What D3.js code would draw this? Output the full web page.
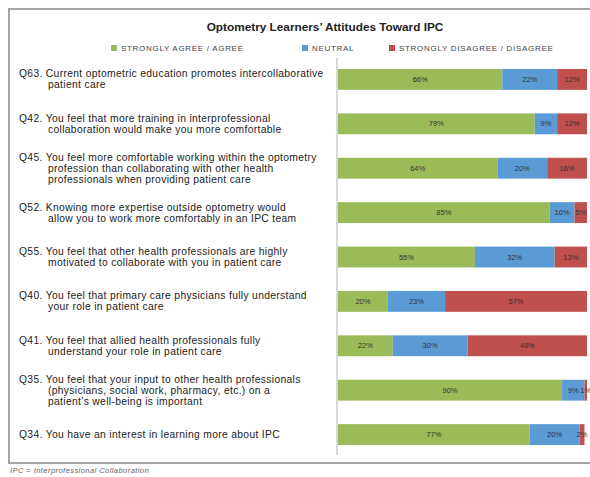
<!DOCTYPE html>
<html>
<head>
<meta charset="utf-8">
<script src="https://cdn.jsdelivr.net/npm/d3@7"></script>
<style>
  html, body { margin: 0; padding: 0; background: #fff; }
  svg { display: block; font-family: "Liberation Sans", Arial, sans-serif; }
</style>
</head>
<body>
<svg id="chart" width="590" height="477"></svg>
<script>
// ---- data ----
const title = "Optometry Learners\u2019 Attitudes Toward IPC";
const seriesNames = ["STRONGLY AGREE / AGREE", "NEUTRAL", "STRONGLY DISAGREE / DISAGREE"];
const questionIds = ["Q63", "Q42", "Q45", "Q52", "Q55", "Q40", "Q41", "Q35", "Q34"];
const questionLines = [
  ["Q63. Current optometric education promotes intercollaborative", "patient care"],
  ["Q42. You feel that more training in interprofessional", "collaboration would make you more comfortable"],
  ["Q45. You feel more comfortable working within the optometry", "profession than collaborating with other health", "professionals when providing patient care"],
  ["Q52. Knowing more expertise outside optometry would", "allow you to work more comfortably in an IPC team"],
  ["Q55. You feel that other health professionals are highly", "motivated to collaborate with you in patient care"],
  ["Q40. You feel that primary care physicians fully understand", "your role in patient care"],
  ["Q41. You feel that allied health professionals fully", "understand your role in patient care"],
  ["Q35. You feel that your input to other health professionals", "(physicians, social work, pharmacy, etc.) on a", "patient\u2019s well-being is important"],
  ["Q34. You have an interest in learning more about IPC"]
];
const agree    = [66, 79, 64, 85, 55, 20, 22, 90, 77];
const neutral  = [22,  9, 20, 10, 32, 23, 30,  9, 20];
const disagree = [12, 12, 16,  5, 13, 57, 48,  1,  2];
const footnote = "IPC = Interprofessional Collaboration";

// ---- build ----
const colors = ["#9bbb59", "#5b9bd5", "#c0504d"];
const svg = d3.select("#chart");

const rows = questionIds.map((id, i) => ({id, lines: questionLines[i], values: [agree[i], neutral[i], disagree[i]]}));

const x = d3.scaleLinear().domain([0, 100]).range([338, 587]);
const y = d3.scaleBand().domain(questionIds).range([57, 457]).paddingInner(0.53).paddingOuter(0.27);

// frame
svg.append("path")
  .attr("d", "M590,9 H9 V463 H590")
  .attr("fill", "none")
  .attr("stroke", "#a6a6a6")
  .attr("stroke-width", 2);

// title
svg.append("text")
  .attr("x", 325).attr("y", 31)
  .attr("text-anchor", "middle")
  .attr("font-size", 11.8).attr("font-weight", "bold")
  .attr("fill", "#222")
  .text(title);

// legend
const legendX = [111, 302, 389];
const leg = svg.append("g").selectAll("g").data(seriesNames).join("g")
  .attr("transform", (d, i) => `translate(${legendX[i]},48)`);
leg.append("rect").attr("x", 0).attr("y", -3).attr("width", 6).attr("height", 6)
  .attr("fill", (d, i) => colors[i]);
leg.append("text").attr("x", 10).attr("y", 2.8)
  .attr("font-size", 8).attr("letter-spacing", 0.7).attr("fill", "#444")
  .text(d => d);

// axis line
svg.append("line")
  .attr("x1", x(0) - 1).attr("x2", x(0) - 1)
  .attr("y1", 58).attr("y2", 455)
  .attr("stroke", "#d9d9d9").attr("stroke-width", 2);

// bars
const rowG = svg.append("g").selectAll("g").data(rows).join("g");
rowG.each(function(r) {
  const g = d3.select(this);
  let cum = 0;
  const segs = r.values.map((v, k) => { const s = {k, v, x0: cum, x1: cum + v}; cum += v; return s; });
  g.selectAll("rect").data(segs).join("rect")
    .attr("x", s => x(s.x0))
    .attr("y", y(r.id))
    .attr("width", s => x(s.x1) - x(s.x0))
    .attr("height", y.bandwidth())
    .attr("fill", s => colors[s.k]);
  g.selectAll("text.val").data(segs).join("text")
    .attr("class", "val")
    .attr("x", s => (x(s.x0) + x(s.x1)) / 2)
    .attr("y", y(r.id) + y.bandwidth() / 2 + 2.6)
    .attr("text-anchor", "middle")
    .attr("font-size", 7.5)
    .attr("fill", "#333")
    .text(s => s.v + "%");
});

// question labels
const lineH = 11;
rowG.each(function(r) {
  const g = d3.select(this);
  const cy = y(r.id) + y.bandwidth() / 2;
  const n = r.lines.length;
  const top = cy - (n - 1) * lineH / 2;
  g.selectAll("text.q").data(r.lines).join("text")
    .attr("class", "q")
    .attr("x", (d, j) => j === 0 ? 19 : 48)
    .attr("y", (d, j) => top + j * lineH + 3.5)
    .attr("font-size", 10.3)
    .attr("letter-spacing", 0.33)
    .attr("fill", "#222")
    .text(d => d);
});

// footnote
svg.append("text")
  .attr("x", 10).attr("y", 473)
  .attr("font-size", 7.6).attr("font-style", "italic").attr("letter-spacing", 0.4)
  .attr("fill", "#666")
  .text(footnote);
</script>
</body>
</html>
